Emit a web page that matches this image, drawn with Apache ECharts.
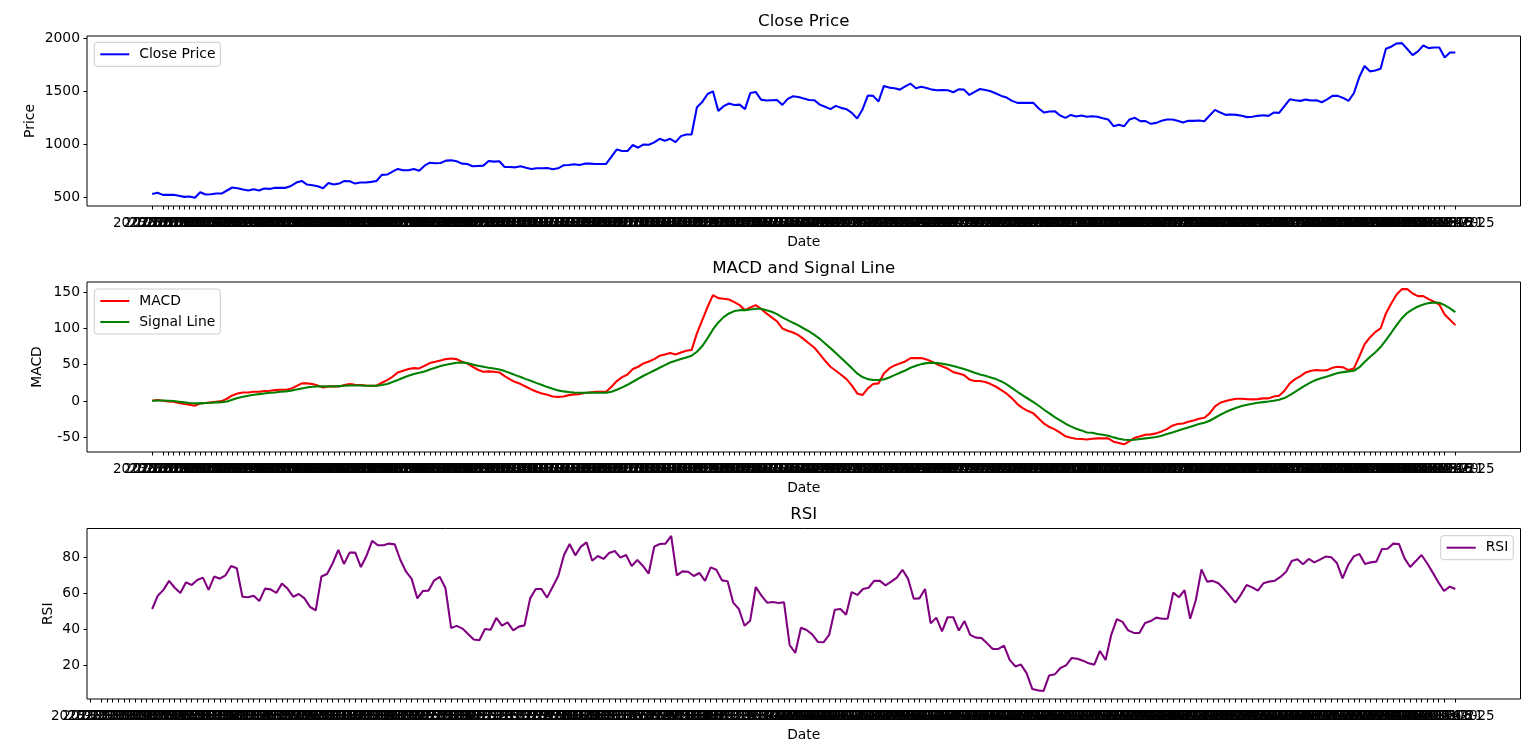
<!DOCTYPE html>
<html>
<head>
<meta charset="utf-8">
<style>html,body{margin:0;padding:0;background:#fff}#c{width:1536px;height:754px}</style>
<script src="https://cdn.jsdelivr.net/npm/echarts@6/dist/echarts.min.js"></script>
</head>
<body>
<div id="c"></div>
<script>
const tradingDays = {
  "2023-07":"03 05 06 07 10 11 12 13 14 17 18 19 20 21 24 25 26 27 28 31",
  "2023-08":"01 02 03 04 07 08 09 10 11 14 15 16 17 18 21 22 23 24 25 28 29 30 31",
  "2023-09":"01 05 06 07 08 11 12 13 14 15 18 19 20 21 22 25 26 27 28 29",
  "2023-10":"02 03 04 05 06 09 10 11 12 13 16 17 18 19 20 23 24 25 26 27 30 31",
  "2023-11":"01 02 03 06 07 08 09 10 13 14 15 16 17 20 21 22 24 27 28 29 30",
  "2023-12":"01 04 05 06 07 08 11 12 13 14 15 18 19 20 21 22 26 27 28 29",
  "2024-01":"02 03 04 05 08 09 10 11 12 16 17 18 19 22 23 24 25 26 29 30 31",
  "2024-02":"01 02 05 06 07 08 09 12 13 14 15 16 20 21 22 23 26 27 28 29",
  "2024-03":"01 04 05 06 07 08 11 12 13 14 15 18 19 20 21 22 25 26 27 28",
  "2024-04":"01 02 03 04 05 08 09 10 11 12 15 16 17 18 19 22 23 24 25 26 29 30",
  "2024-05":"01 02 03 06 07 08 09 10 13 14 15 16 17 20 21 22 23 24 28 29 30 31",
  "2024-06":"03 04 05 06 07 10 11 12 13 14 17 18 20 21 24 25"
};
const dates = Object.entries(tradingDays)
  .flatMap(([m, d]) => d.split(" ").map(x => m + "-" + x)).slice(-245);

const closePrice = [
531,541,522,522,522,513,503,506,494,547,525,528,534,534,563,591,584,572,563,575,563,581,578,588,588,588,606,638,653,619,613,603,584,634,619,628,653,650,628,638,638,644,653,710,713,741,766,753,753,766,750,797,825,819,822,844,847,838,816,813,791,794,797,841,835,838,785,785,781,791,778,766,772,772,775,763,772,800,803,810,803,816,816,
813,813,813,881,950,935,935,991,966,997,994,1016,1050,1032,1050,1019,1075,1091,1091,1347,1397,1472,1497,1313,1357,1382,1369,1372,1329,1482,1491,1419,1410,1413,1416,1369,1426,1451,1444,1429,1416,1413,1372,1351,1329,1360,1341,1329,1294,1241,1326,1457,1454,1401,1548,1532,1526,1513,1544,1569,1526,1541,1529,1513,1507,1510,1507,1488,1516,1513,1463,1491,1519,1510,1497,1476,1454,1438,1407,1388,1388,1388,1388,1335,1297,1307,1310,1269,
1247,1275,1260,1269,1257,1263,1257,1244,1232,1169,1182,1169,1232,1247,1216,1216,1191,1200,1219,1232,1232,1219,1204,1219,1219,1222,1216,1269,1322,1297,1275,1279,1275,1266,1254,1257,1266,1272,1266,1297,1294,1357,1422,1413,1407,1419,1410,1413,1394,1422,1454,1454,1435,1407,1479,1629,1735,1685,1694,1710,1898,1917,1948,1951,1895,1838,1873,1929,1904,1910,1910,1816,1863,1863];

const macd = [
0.5,1.4,0.5,-0.5,-0.9,-2.7,-4.1,-5,-6.4,-3.2,-2.7,-1.8,-0.9,0,3.2,7.8,10.5,11.9,11.9,12.8,12.8,13.7,14.2,15.1,15.6,15.6,16.9,20.6,24.3,24.3,23.4,21.5,18.8,20.2,20.2,20.2,22,23.4,22.4,22,21.5,21.1,21.1,25.2,28.9,33.4,39.4,41.7,44,45.3,44.9,48.5,52.2,54,55.9,57.7,58.6,57.7,54,51.8,47.2,43.1,40.3,40.8,40.3,39.4,34.4,29.8,26.1,23.4,19.7,16,12.8,10.5,8.7,6.4,5.5,6.4,8.2,9.2,9.6,11,11.9,
12.8,12.8,12.8,19.7,27.5,33,36.6,44,47.2,51.8,54.5,57.7,62.3,64.1,66,64.1,66.9,69.2,70.1,93,111.3,129.6,145.6,141.5,140.6,139.7,136,131.9,125,128.7,131.9,126.9,120.5,115,109.5,99.8,96.6,94.3,90.7,85.2,79.2,73.3,64.6,55.4,47.2,41.7,36.2,30.2,21.5,10.5,8.2,17.4,23.4,24.3,38,44.9,49,51.8,54.5,59.1,59.1,59.1,57.3,54,50.4,47.6,44.4,39.8,38,35.7,29.8,27.5,27.5,26.1,23.4,19.7,15.1,10.1,3.7,-4.1,-9.6,-13.7,-16.9,-23.8,-31.1,-35.7,-38.9,-43.5,-48.5,-50.4,-51.8,-52.2,-52.7,
-51.8,-51.3,-51.3,-51.3,-55.9,-57.7,-59.5,-55,-50.4,-48.5,-46.3,-45.8,-44.4,-41.7,-38.5,-33.9,-31.6,-30.7,-28.4,-26.6,-24.3,-22.9,-16.9,-7.3,-2.3,0,1.8,3.2,3.2,2.7,2.3,2.7,3.7,3.7,6.4,7.3,14.2,24.3,30.2,34.4,39.4,41.7,42.6,42.1,42.6,45.8,47.2,46.3,42.6,44.9,60.9,77.9,87.5,94.8,99.8,120.5,134.2,146.6,153.9,153.9,147.9,144.3,144.3,140.1,136.5,132.8,119.1,111.8,104.4];

const signalLine = [
0.5,0.9,0.9,0.5,0,-0.9,-1.8,-2.7,-3.2,-3.2,-2.7,-2.3,-1.8,-1.4,-0.5,1.8,4.1,6,7.3,8.7,9.6,10.5,11.5,11.9,12.8,13.3,14.2,16,17.4,18.8,19.7,20.2,20.2,20.2,20.2,20.6,21.1,21.5,21.5,21.5,21.1,21.1,21.1,22,23.4,26.1,28.9,32.1,34.8,37.1,38.9,40.8,43.5,45.8,48.1,49.9,51.3,52.7,53.1,52.2,50.4,48.5,47.2,45.8,44.9,43.5,41.2,38.5,35.7,33,30.2,27.5,24.7,22,19.2,16.9,14.7,13.3,12.4,11.9,11.5,11.5,11.9,
11.5,11.5,11.5,12.8,15.6,18.8,22.4,26.6,30.7,34.8,38.5,42.1,45.8,49.5,53.1,55.4,57.7,60,62.3,67.8,75.6,86.6,98.5,108.1,115.4,120.5,123.7,125,125,125.9,126.9,126.9,125,122.7,119.5,115,111.3,107.6,104,99.8,95.7,91.1,85.6,79.2,72.8,66,59.1,52.2,45.3,38,33,30.2,28.9,28.9,29.8,32.5,35.7,38.9,42.1,45.8,48.5,50.8,52.2,52.7,52.2,51.3,49.9,48.1,46.3,44,41.7,38.9,36.6,34.8,32.5,30.2,27,22.9,17.9,12.8,7.8,3.2,-1.4,-6.4,-11.9,-16.9,-22,-26.6,-31.1,-34.8,-38,-40.3,-43.1,
-43.5,-45.3,-46.3,-47.6,-49.9,-51.8,-53.1,-53.6,-53.1,-52.2,-51.3,-50.4,-49.5,-47.6,-45.3,-43.1,-40.8,-38.5,-36.2,-33.9,-31.6,-29.8,-27,-22.9,-18.8,-15.1,-11.9,-9.2,-6.9,-5,-3.7,-2.3,-1.4,-0.5,0.5,1.8,4.1,8.2,12.8,17.4,22,26.1,29.3,31.6,33.9,36.2,38.5,39.8,40.8,41.7,46.3,53.6,60.5,66.9,74.2,83.8,93.9,104.4,114,121.4,126,130,132.8,134.7,135.6,135.1,131.9,127.3,122.3];

const rsiStart = 13;
const rsi = [
51.4,58.8,62,67,63.2,60.3,66.2,64.7,67.5,68.8,62,69.4,68.2,70.1,75.3,74,58.2,57.9,58.8,55.8,62.7,62.3,60.3,65.5,62.7,58.2,59.7,57.3,52.5,50.6,69.4,70.8,76.8,84.2,76.4,82.7,82.7,74.7,81,89.2,86.8,86.8,87.7,87.3,78.6,72.1,68.1,57.3,61.4,61.6,67.3,69.2,62.9,40.8,42,40.5,37.5,34.4,34,40.3,39.9,46.4,42.1,44,39.5,41.6,42.3,57.3,62.5,62.5,57.7,63.8,69.9,81.4,87.5,81.2,86,88.4,
78.2,80.8,79.2,82.5,83.6,79.9,81.4,75.3,78.6,75.3,71,86,87.5,87.7,92,70.1,72.3,72.1,69.7,71.4,67,74.5,73.2,67.3,66.8,54.9,51.4,42.1,44.9,63.6,58.8,54.9,55.3,54.7,55.1,31.4,27,41,39.7,37.3,33.1,32.9,37,51,51.4,48.2,60.8,59.2,62.5,63.2,67.1,67,64.5,66.6,68.8,73.2,68.1,57.1,57.3,62.5,43.4,46.6,39,46.8,46.8,39.4,44.7,37,35.5,35.3,32.3,29.2,29.2,31,23.1,19.5,20.5,15.8,7,6.2,5.8,14.5,15.1,18.6,20.1,24.2,23.8,22.7,21.2,
20.5,28.1,23.1,37,45.8,44.2,39.5,38.1,38.1,43.6,44.7,46.6,46,46,60.5,57.9,61.8,46,56.4,73.4,66.6,67,65.7,62.5,58.8,54.9,59.4,64.7,63.4,61.6,65.7,66.6,67.1,69.2,72.1,78,79,76.2,79.2,77.3,78.8,80.5,80.1,77,68.4,75.8,80.6,82,76.4,77.3,77.7,84.7,84.9,87.7,87.5,79.5,74.7,78,81.4,76.8,71.6,66.2,61.4,63.8,62.5];

const priceTicks = [500,1000,1500,2000];
const macdTicks = [-50,0,50,100,150];
const rsiTicks = [20,40,60,80];

const FONT = '"DejaVu Sans"';
const topTickIdx = dates.map((_, i) => i);
const rsiTickIdx = topTickIdx.slice(2);

function xAxis(gridIndex, min, max, ticks) {
  return {
    type:'value', gridIndex, min, max, name:'Date', nameLocation:'middle', nameGap:29, nameMoveOverlap:false,
    nameTextStyle:{color:'#000', fontFamily:FONT, fontSize:13.9},
    axisLine:{show:false, onZero:false}, splitLine:{show:false},
    axisTick:{show:true, length:3.5, lineStyle:{color:'#000', width:1}, customValues:ticks},
    axisLabel:{show:true, color:'#000', fontFamily:FONT, fontSize:13.5, margin:10.5, customValues:ticks,
      showMinLabel:true, showMaxLabel:true, hideOverlap:false, formatter:v => dates[v]}
  };
}
function yAxis(gridIndex, min, max, name, ticks, nameGap) {
  return {
    type:'value', gridIndex, min, max, name, nameLocation:'middle', nameGap, nameMoveOverlap:false,
    nameTextStyle:{color:'#000', fontFamily:FONT, fontSize:13.9},
    axisLine:{show:false, onZero:false}, splitLine:{show:false},
    axisTick:{show:true, length:3.5, lineStyle:{color:'#000', width:1}, customValues:ticks},
    axisLabel:{show:true, color:'#000', fontFamily:FONT, fontSize:13.9, margin:7, customValues:ticks,
      formatter:v => String(v)}
  };
}
function line(name, color, vals, idx, offset) {
  return {
    name, type:'line', xAxisIndex:idx, yAxisIndex:idx, showSymbol:false, symbol:'none',
    color, lineStyle:{color, width:2.08}, smooth:false, animation:false, clip:true,
    emphasis:{disabled:true},
    data: vals.map((v, i) => [i + offset, v])
  };
}
function legend(left, top, names) {
  return {
    show:true, data:names, left, top, orient:'vertical', padding:[5,5,5,5],
    itemWidth:29, itemHeight:14, itemGap:7, itemStyle:{opacity:0},
    textStyle:{color:'#000', fontFamily:FONT, fontSize:13.9, padding:[0,0,0,5]},
    backgroundColor:'rgba(255,255,255,0.8)', borderColor:'#ccc', borderWidth:1, borderRadius:3,
    selectedMode:false
  };
}
function title(text, top) {
  return { text, left:803.75, top, textAlign:'center', padding:0,
    textStyle:{color:'#000', fontFamily:FONT, fontSize:16.67, fontWeight:'normal'} };
}
const g = (top, height) => ({show:true, left:87, width:1433.5, top, height, borderColor:'#000', borderWidth:1, backgroundColor:'#fff', containLabel:false});

const chart = echarts.init(document.getElementById('c'), null, {renderer:'canvas'});
chart.setOption({
  animation:false, backgroundColor:'#fff', tooltip:{show:false},
  title:[title('Close Price',13), title('MACD and Signal Line',260), title('RSI',506)],
  grid:[g(36,170), g(282,170), g(528.5,170.5)],
  legend:[
    legend(94.3,42.3,['Close Price']),
    legend(94.3,289,['MACD','Signal Line']),
    legend(1440.7,535.7,['RSI'])
  ],
  xAxis:[xAxis(0,-12.2,256.2,topTickIdx), xAxis(1,-12.2,256.2,topTickIdx), xAxis(2,1.45,255.55,rsiTickIdx)],
  yAxis:[
    yAxis(0,417,2018,'Price',priceTicks,50),
    yAxis(1,-70,163.7,'MACD',macdTicks,43),
    yAxis(2,1.4,96.1,'RSI',rsiTicks,32)
  ],
  series:[
    line('Close Price','#0000ff',closePrice,0,0),
    line('MACD','#ff0000',macd,1,0),
    line('Signal Line','#008000',signalLine,1,0),
    line('RSI','#800080',rsi,2,rsiStart)
  ]
});
</script>
</body>
</html>
